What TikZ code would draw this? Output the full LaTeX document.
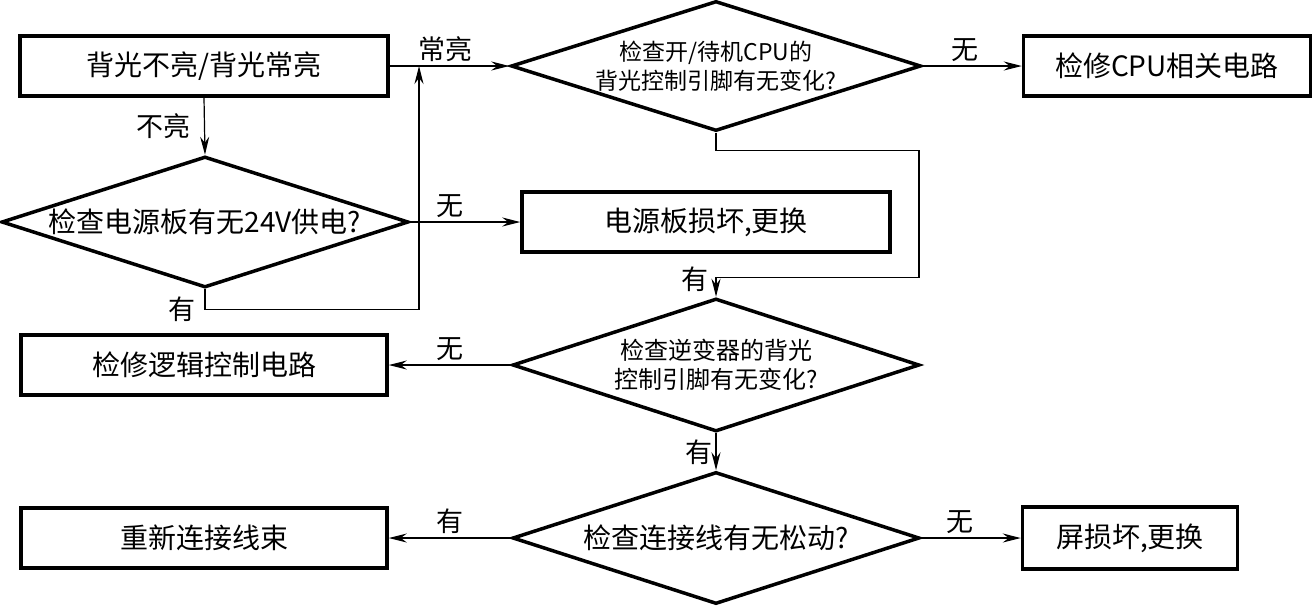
\documentclass[tikz,border=0pt]{standalone}
\usepackage{fontspec}
\setmainfont{Noto Sans CJK SC}
\usetikzlibrary{shapes.geometric,arrows.meta}

\tikzset{
	proc/.style={draw, line width=3.5pt, minimum width=368pt, minimum height=60pt,
		inner sep=0pt, font=\fontsize{28pt}{33pt}\selectfont},
	test/.style={diamond, draw, line width=3.5pt, minimum width=407pt,
		minimum height=131pt, inner sep=0pt},
	qtext/.style={align=center, inner sep=0pt},
	flow/.style={line width=1.2pt, -{Stealth[length=18pt,width=9pt,inset=6pt]}},
	tag/.style={font=\fontsize{27pt}{32pt}\selectfont}
}

\begin{document}
\begin{tikzpicture}[x=1pt,y=-1pt]
	\useasboundingbox (0,0) rectangle (1313,606);
	% boxes
	\node[proc] (start) at (204,66) {背光不亮/背光常亮};
	\node[proc, minimum width=287pt] (cpufix) at (1167,66) {检修CPU相关电路};
	\node[proc] (psubad) at (706,222) {电源板损坏,更换};
	\node[proc, minimum width=366pt] (logicfix) at (204,365) {检修逻辑控制电路};
	\node[proc, minimum width=366pt] (rewire) at (204,538) {重新连接线束};
	\node[proc, minimum width=215pt, minimum height=62pt] (screenbad) at (1130,538) {屏损坏,更换};
	% decisions
	\node[test] (chkpsu) at (205,222) {};
	\node[qtext, font=\fontsize{28pt}{33pt}\selectfont] (chkpsutxt) at (chkpsu) {检查电源板有无24V供电?};
	\node[test, minimum width=410pt, minimum height=130pt] (chkcpu) at (716,66) {};
	\node[qtext, font=\fontsize{23pt}{29pt}\selectfont] (chkcputxt) at (chkcpu) {检查开/待机CPU的\\背光控制引脚有无变化?};
	\node[test, minimum height=133pt] (chkinv) at (716,365) {};
	\node[qtext, font=\fontsize{24pt}{29pt}\selectfont] (chkinvtxt) at (chkinv) {检查逆变器的背光\\控制引脚有无变化?};
	\node[test, minimum height=132pt] (chkwire) at (716,538) {};
	\node[qtext, font=\fontsize{28pt}{33pt}\selectfont] (chkwiretxt) at (chkwire) {检查连接线有无松动?};
	\coordinate (join) at (419,66);

	% connectors
	\draw[flow] (start.east) -- node[tag, above, pos=0.47] {常亮} (chkcpu.west);
	\draw[flow] (start.south) -- node[tag, left, xshift=-10pt] {不亮} (chkpsu.north);
	\draw[flow] (chkpsu.east) -- node[tag, above, pos=0.36] {无} (psubad.west);
	\draw[flow] (chkpsu.south) -- ++(0,20) node[tag, left, xshift=-6pt] {有} -| (join);
	\draw[flow] (chkcpu.east) -- node[tag, above, pos=0.43] {无} (cpufix.west);
	\draw[flow] (chkcpu.south) -- ++(0,18) -| ++(203,127) -| node[tag, left, pos=0.55, xshift=-4pt] {有} (chkinv.north);
	\draw[flow] (chkinv.west) -- node[tag, above] {无} (logicfix.east);
	\draw[flow] (chkinv.south) -- node[tag, left] {有} (chkwire.north);
	\draw[flow] (chkwire.west) -- node[tag, above] {有} (rewire.east);
	\draw[flow] (chkwire.east) -- node[tag, above, pos=0.39] {无} (screenbad.west);
\end{tikzpicture}
\end{document}
